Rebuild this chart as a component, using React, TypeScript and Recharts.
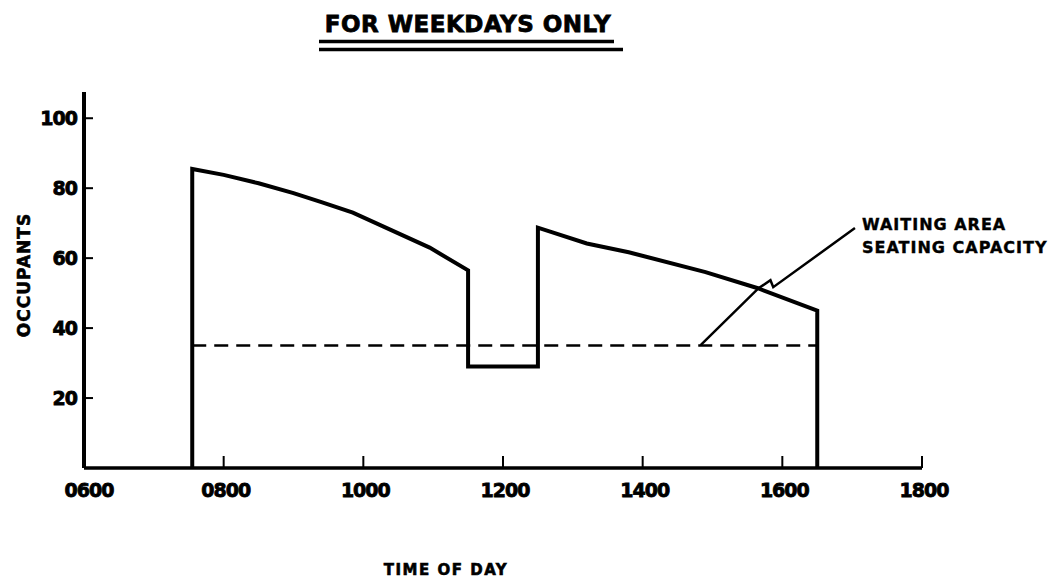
import { Line, LineChart, XAxis, YAxis } from "recharts";

// time of day in decimal hours, occupants
const occTime = [7.55, 7.55, 8.0, 8.5, 9.0, 9.4, 9.85, 10.4, 10.95, 11.5, 11.5, 12.5, 12.5, 13.2, 13.8, 14.9, 15.65, 16.5, 16.5];
const occValue = [0, 85.5, 83.8, 81.4, 78.6, 76, 73, 68, 63, 56.5, 29, 29, 68.7, 64.2, 61.7, 56, 51.4, 45, 0];

const capacityTime = [7.55, 16.5];
const capacityValue = [35, 35];

// leader from the capacity line to its note, with the little zigzag
const leaderTime = [14.83, 15.66, 15.83, 15.87, 17.04];
const leaderValue = [35.1, 51.4, 53.7, 51.7, 68.6];

const xTicks = [6, 8, 10, 12, 14, 16, 18];
const yTicks = [20, 40, 60, 80, 100];

const title = "FOR WEEKDAYS ONLY";
const noteLines = ["WAITING AREA", "SEATING CAPACITY"];

const FONT = "'DejaVu Sans', sans-serif";
const INK = "#000";

function toPoints(t: number[], v: number[]) {
    return t.map((time, i) => ({ t: time, v: v[i] }));
}

function formatHour(value: number) {
    return String(value * 100).padStart(4, "0");
}

function XTick(props: any) {
    const { x, y, payload } = props;
    return (
        <g>
            {payload.value !== 6 && (
                <line x1={x} x2={x} y1={y} y2={y - 12} stroke={INK} strokeWidth={2} />
            )}
            <text
                x={x + (payload.value === 6 ? 5 : 2)}
                y={y + 29}
                textAnchor="middle"
                fontFamily={FONT}
                fontWeight={700}
                fontSize={19}
                letterSpacing={-1}
                fill={INK}
                stroke={INK}
                strokeWidth={0.8}
            >
                {formatHour(payload.value)}
            </text>
        </g>
    );
}

function YTick(props: any) {
    const { x, y, payload } = props;
    return (
        <g>
            <line x1={x} x2={x + 9} y1={y} y2={y} stroke={INK} strokeWidth={2} />
            <text
                x={x - 7}
                y={y + 7}
                textAnchor="end"
                fontFamily={FONT}
                fontWeight={700}
                fontSize={19}
                letterSpacing={-1}
                fill={INK}
                stroke={INK}
                strokeWidth={0.8}
            >
                {payload.value}
            </text>
        </g>
    );
}

export default function App() {
    const occupancy = toPoints(occTime, occValue);
    const capacity = toPoints(capacityTime, capacityValue);
    const leader = toPoints(leaderTime, leaderValue);

    return (
        <div style={{ position: "absolute", left: 0, top: 0, width: 1056, height: 578, background: "#fff" }}>
            <LineChart
                width={1056}
                height={578}
                margin={{ top: 92, right: 134, bottom: 0, left: 0 }}
            >
                <XAxis
                    type="number"
                    dataKey="t"
                    domain={[6, 18]}
                    ticks={xTicks}
                    interval={0}
                    height={110}
                    tickSize={0}
                    tickMargin={0}
                    tick={<XTick />}
                    axisLine={{ stroke: INK, strokeWidth: 3.5 }}
                    allowDuplicatedCategory={false}
                />
                <YAxis
                    type="number"
                    dataKey="v"
                    domain={[0, 107.5]}
                    ticks={yTicks}
                    interval={0}
                    width={84}
                    tickSize={0}
                    tickMargin={0}
                    tick={<YTick />}
                    axisLine={{ stroke: INK, strokeWidth: 4 }}
                />

                <Line
                    data={capacity}
                    dataKey="v"
                    type="linear"
                    stroke={INK}
                    strokeWidth={2.5}
                    strokeDasharray="14 8"
                    dot={false}
                    activeDot={false}
                    isAnimationActive={false}
                />
                <Line
                    data={leader}
                    dataKey="v"
                    type="linear"
                    stroke={INK}
                    strokeWidth={2.5}
                    dot={false}
                    activeDot={false}
                    isAnimationActive={false}
                />
                <Line
                    data={occupancy}
                    dataKey="v"
                    type="linear"
                    stroke={INK}
                    strokeWidth={4}
                    dot={false}
                    activeDot={false}
                    isAnimationActive={false}
                />

                <text
                    x={468}
                    y={32}
                    textAnchor="middle"
                    fontFamily={FONT}
                    fontWeight={700}
                    fontSize={23}
                    letterSpacing={0.5}
                    fill={INK}
                    stroke={INK}
                    strokeWidth={0.8}
                >
                    {title}
                </text>
                <line x1={319} x2={614} y1={41.5} y2={41.5} stroke={INK} strokeWidth={3.5} />
                <line x1={319} x2={623} y1={49.5} y2={49.5} stroke={INK} strokeWidth={3.5} />

                {noteLines.map((line, i) => (
                    <text
                        key={line}
                        x={862}
                        y={230 + i * 23}
                        fontFamily={FONT}
                        fontWeight={700}
                        fontSize={16}
                        letterSpacing={1}
                        fill={INK}
                        stroke={INK}
                        strokeWidth={0.4}
                    >
                        {line}
                    </text>
                ))}

                <text
                    transform="translate(30 275) rotate(-90)"
                    textAnchor="middle"
                    fontFamily={FONT}
                    fontWeight={700}
                    fontSize={17}
                    letterSpacing={1}
                    fill={INK}
                    stroke={INK}
                    strokeWidth={0.6}
                >
                    OCCUPANTS
                </text>
                <text
                    x={446}
                    y={575}
                    textAnchor="middle"
                    fontFamily={FONT}
                    fontWeight={700}
                    fontSize={15}
                    letterSpacing={1.5}
                    fill={INK}
                    stroke={INK}
                    strokeWidth={0.6}
                >
                    TIME OF DAY
                </text>
            </LineChart>
        </div>
    );
}
